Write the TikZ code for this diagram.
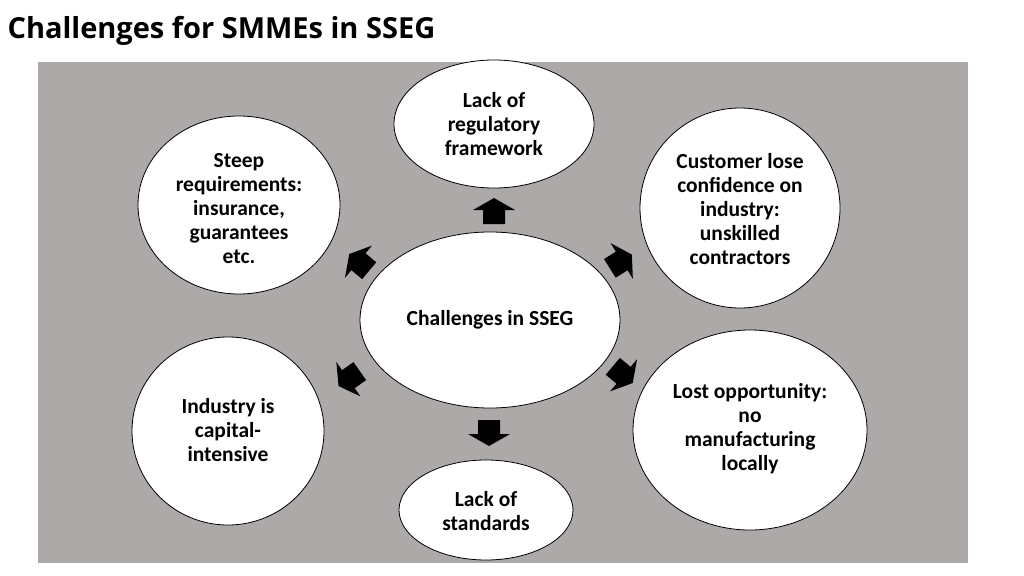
\documentclass[tikz,border=0pt]{standalone}
\usepackage{fontspec}
\setmainfont{Carlito}
\newfontfamily\titlefont{Open Sans}
\begin{document}
\begin{tikzpicture}[x=1pt,y=-1pt,
  bub/.style={draw=black,line width=0.8pt,fill=white},
  lab/.style={font=\bfseries\fontsize{21.5}{24}\selectfont,align=center},
  barrow/.pic={\fill[black] (-12pt,-11pt)--(2pt,-11pt)--(2pt,-21pt)--(14pt,0pt)--(2pt,21pt)--(2pt,11pt)--(-12pt,11pt)--cycle;}]
\useasboundingbox (0,0) rectangle (1024,575);
\node[anchor=west,font=\titlefont\bfseries\fontsize{29}{34}\selectfont] (title) at (4,31) {Challenges for SMMEs in SSEG};
\fill[fill={rgb,255:red,173;green,169;blue,169}] (38,62) rectangle (968,563);
\draw[bub] (490,320) ellipse [x radius=130,y radius=88];
\node[lab] (c) at (490,320) {Challenges in SSEG};
\draw[bub] (494,124) ellipse [x radius=100,y radius=64];
\node[lab] (t) at (494,124) {Lack of\\regulatory\\framework};
\draw[bub] (239,205) ellipse [x radius=101,y radius=89];
\node[lab] (tl) at (239,209) {Steep\\requirements:\\insurance,\\guarantees\\etc.};
\draw[bub] (740,208) ellipse [x radius=100,y radius=100];
\node[lab] (tr) at (740,209) {Customer lose\\confidence on\\industry:\\unskilled\\contractors};
\draw[bub] (750,430) ellipse [x radius=117,y radius=100];
\node[lab] (br) at (750,429) {Lost opportunity:\\no\\manufacturing\\locally};
\draw[bub] (228,431) ellipse [x radius=96,y radius=94];
\node[lab] (bl) at (228,430) {Industry is\\capital-\\intensive};
\draw[bub] (486,510) ellipse [x radius=87,y radius=50];
\node[lab] (b) at (486,511) {Lack of\\standards};
\pic[rotate=90] at (494,212) {barrow};
\pic[rotate=32] at (620,262) {barrow};
\pic[rotate=-40] at (622,374) {barrow};
\pic[rotate=-90] at (489,432) {barrow};
\pic[rotate=-145] at (350,378) {barrow};
\pic[rotate=140] at (360,263) {barrow};
\end{tikzpicture}
\end{document}
